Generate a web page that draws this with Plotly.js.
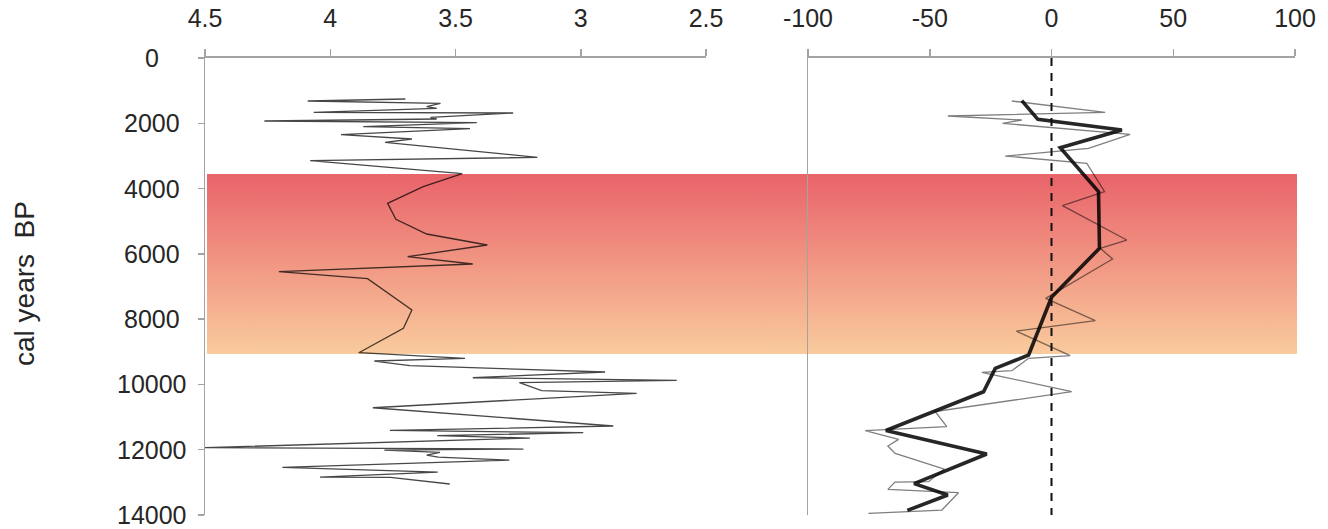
<!DOCTYPE html>
<html>
<head>
<meta charset="utf-8">
<script src="https://cdn.plot.ly/plotly-3.0.1.min.js"></script>
<style>html,body{margin:0;padding:0;background:#fff;}#chart{width:1328px;height:529px;}</style>
</head>
<body>
<div id="chart"></div>
<script>
// ---- data ----
// left panel (top axis 4.5 -> 2.5)
var leftAge = [1256,1317,1389,1491,1542,1665,1685,1818,1869,1930,1981,2103,2165,2349,2482,2584,3043,3145,3544,3942,4452,4943,5392,5729,6087,6311,6547,6761,7721,8282,9028,9201,9283,9426,9620,9795,9875,9947,10192,10274,10714,11274,11407,11479,11571,11642,11938,11979,12010,12081,12163,12224,12316,12541,12684,12837,12850,13051];
var leftVal = [3.70,4.09,3.56,3.615,3.575,4.066,3.27,3.60,3.575,4.263,3.415,3.868,3.442,3.957,3.674,3.781,3.173,4.08,3.473,3.629,3.771,3.738,3.615,3.373,3.691,3.431,4.205,3.851,3.674,3.708,3.886,3.462,3.824,3.682,2.903,3.431,2.617,3.245,3.156,2.777,3.83,2.87,3.762,2.99,3.573,3.203,4.5,3.229,3.784,3.562,3.615,3.569,3.285,4.191,3.571,4.041,3.76,3.523];

// right panel, thin series
var thinAge = [1317,1665,1777,1900,2002,2338,2767,3003,3227,4095,4524,5576,5830,6158,7363,8048,8364,9120,9201,9580,9630,10223,10830,11294,11417,11683,11887,12112,12592,12980,12990,13214,13317,13848,13950];
var thinVal = [-16.3,22.0,-42.6,-12.2,-20.1,32.3,15.2,-19.0,14.5,21.8,4.5,30.9,20.0,25.1,-2.4,18.0,-14.5,7.7,-9.4,-16.3,-28.6,8.3,-47.8,-43.0,-76.5,-62.8,-67.2,-64.2,-44.0,-50.5,-64.3,-67.2,-38.2,-45.0,-75.2];

// right panel, thick (smoothed) series
var thickAge = [1307,1879,2206,2747,4095,5830,7332,8232,9099,9508,10223,11410,12130,13040,13388,13860];
var thickVal = [-12.2,-5.6,28.9,3.6,19.3,19.7,0,-4.6,-9.4,-23.1,-27.9,-68.0,-26.6,-56.4,-42.6,-59.2];

// shaded interval (cal years BP)
var bandAge = [3550, 3550, 9070, 9070];
var bandX = [0, 1, 1, 0];
var bandColors = ['#E9636A', '#F9CB9D'];

// ticks
var yTicks = [0,2000,4000,6000,8000,10000,12000,14000];
var yTickText = ['0','2000','4000','6000','8000','10000','12000','14000'];
var leftTicks = [4.5,4,3.5,3,2.5];
var leftTickText = ['4.5','4','3.5','3','2.5'];
var rightTicks = [-100,-50,0,50,100];
var rightTickText = ['-100','-50','0','50','100'];
var yTitle = 'cal years  BP';

// ---- layout helpers ----
var W = 1328, H = 529;
var FONT = '"Liberation Sans", Arial, sans-serif';
var TXT = '#262626';
var AX = '#A3A3A3';
var yDom = [1 - 515/H, 1 - 58/H];

var traces = [
  {
    x: bandX, y: bandAge, xaxis: 'x', yaxis: 'y',
    type: 'scatter', mode: 'lines', fill: 'toself',
    line: {width: 0, color: 'rgba(0,0,0,0)'},
    fillgradient: {type: 'vertical', start: bandAge[0], stop: bandAge[2],
      colorscale: [[0, bandColors[0]], [1, bandColors[1]]]},
    hoverinfo: 'skip'
  },
  {
    x: leftVal, y: leftAge, xaxis: 'x2', yaxis: 'y',
    type: 'scatter', mode: 'lines',
    line: {color: 'rgba(0,0,0,0.72)', width: 1.3}
  },
  {
    x: thinVal, y: thinAge, xaxis: 'x3', yaxis: 'y2',
    type: 'scatter', mode: 'lines',
    line: {color: 'rgba(0,0,0,0.5)', width: 1.3}
  },
  {
    x: thickVal, y: thickAge, xaxis: 'x3', yaxis: 'y2',
    type: 'scatter', mode: 'lines',
    line: {color: 'rgba(0,0,0,0.85)', width: 3.6}
  }
];

var annotations = yTicks.map(function (v, i) {
  return {x: 152/W, xref: 'paper', y: v, yref: 'y', text: yTickText[i],
    showarrow: false, xanchor: 'center', yanchor: 'middle',
    font: {family: FONT, size: 25, color: TXT}};
});
annotations.push({
  x: 24/W, xref: 'paper', y: 1 - 284/H, yref: 'paper', text: yTitle,
  textangle: -90, showarrow: false, xanchor: 'center', yanchor: 'middle',
  font: {family: FONT, size: 28, color: TXT}
});

function xAxis(dom, range, tv, tt, anchor) {
  return {
    domain: dom, range: range, side: 'top', anchor: anchor,
    showline: true, linecolor: AX, linewidth: 2,
    ticks: 'outside', ticklen: 7, tickwidth: 1.5, tickcolor: AX,
    ticklabelstandoff: 12,
    tickvals: tv, ticktext: tt, tickfont: {family: FONT, size: 25, color: TXT},
    showgrid: false, zeroline: false, fixedrange: true
  };
}

var layout = {
  width: W, height: H,
  margin: {l: 0, r: 0, t: 0, b: 0, pad: 0},
  paper_bgcolor: '#ffffff', plot_bgcolor: 'rgba(0,0,0,0)',
  showlegend: false,
  font: {family: FONT, color: TXT},
  xaxis: {domain: [207/W, 1297/W], range: [0, 1], anchor: 'y', visible: false, fixedrange: true},
  xaxis2: xAxis([205/W, 706/W], [4.5, 2.5], leftTicks, leftTickText, 'y'),
  xaxis3: xAxis([808/W, 1295/W], [-100, 100], rightTicks, rightTickText, 'y2'),
  yaxis: {
    domain: yDom, range: [14000, 0], anchor: 'x2', side: 'left',
    showline: true, linecolor: AX, linewidth: 1.5,
    ticks: 'outside', ticklen: 6, tickwidth: 1.5, tickcolor: AX,
    tickvals: yTicks, showticklabels: false,
    showgrid: false, zeroline: false, fixedrange: true
  },
  yaxis2: {
    domain: yDom, range: [14000, 0], matches: 'y', anchor: 'x3', side: 'left',
    showline: true, linecolor: AX, linewidth: 1.5,
    ticks: '', showticklabels: false,
    showgrid: false, zeroline: false, fixedrange: true
  },
  shapes: [{
    type: 'line', xref: 'x3', yref: 'y2', x0: 0, x1: 0, y0: yTicks[0], y1: yTicks[yTicks.length - 1],
    line: {color: '#111111', width: 2, dash: '8px,7px'}, layer: 'above'
  }],
  annotations: annotations
};

Plotly.newPlot('chart', traces, layout, {staticPlot: true, displayModeBar: false});
</script>
</body>
</html>
